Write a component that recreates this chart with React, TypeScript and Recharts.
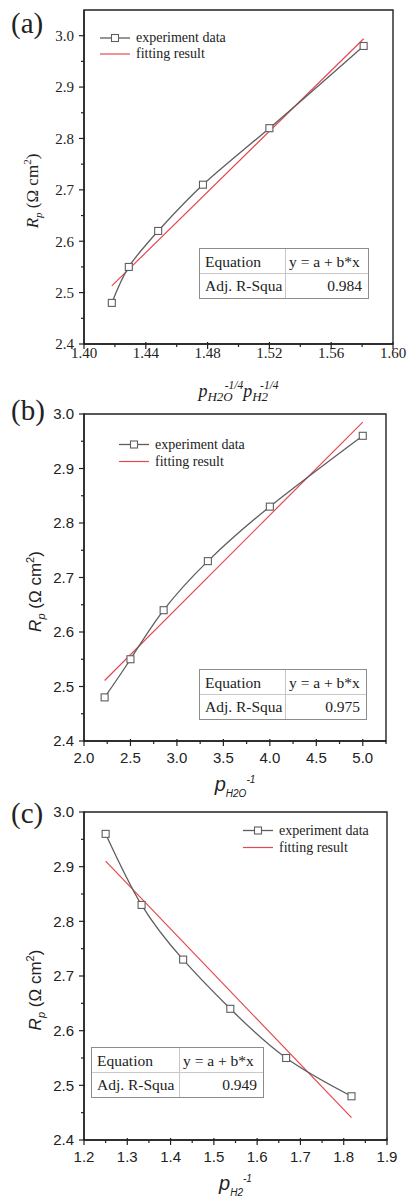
import React from 'react';
import { ComposedChart, Line, XAxis, YAxis, ReferenceArea } from 'recharts';

const SERIF = '"Liberation Serif", "Times New Roman", Times, serif';
const SANS = '"Liberation Sans", Arial, Helvetica, sans-serif';
const INK = '#222';
const EXP = '#5e5e5e';
const FIT = '#e5474f';

// (a) Rp against pH2O^-1/4 pH2^-1/4
const xA = [1.418, 1.429, 1.448, 1.477, 1.52, 1.581];
const rpA = [2.48, 2.55, 2.62, 2.71, 2.82, 2.98];
const fitXA = [1.418, 1.581];
const fitRpA = [2.513, 2.994];
const xTicksA = [1.4, 1.42, 1.44, 1.46, 1.48, 1.5, 1.52, 1.54, 1.56, 1.58, 1.6];
const r2A = '0.984';

// (b) Rp against pH2O^-1
const xB = [2.222, 2.5, 2.857, 3.333, 4.0, 5.0];
const rpB = [2.48, 2.55, 2.64, 2.73, 2.83, 2.96];
const fitXB = [2.222, 5.0];
const fitRpB = [2.511, 2.985];
const xTicksB = [2.0, 2.25, 2.5, 2.75, 3.0, 3.25, 3.5, 3.75, 4.0, 4.25, 4.5, 4.75, 5.0, 5.25];
const r2B = '0.975';

// (c) Rp against pH2^-1
const xC = [1.25, 1.333, 1.429, 1.538, 1.667, 1.818];
const rpC = [2.96, 2.83, 2.73, 2.64, 2.55, 2.48];
const fitXC = [1.25, 1.818];
const fitRpC = [2.91, 2.441];
const xTicksC = [1.2, 1.25, 1.3, 1.35, 1.4, 1.45, 1.5, 1.55, 1.6, 1.65, 1.7, 1.75, 1.8, 1.85, 1.9];
const r2C = '0.949';

const rpTicks = [2.4, 2.45, 2.5, 2.55, 2.6, 2.65, 2.7, 2.75, 2.8, 2.85, 2.9, 2.95, 3.0];

const pts = (xs: number[], ys: number[]) => xs.map((x, i) => ({ x, y: ys[i] }));

const square = (p: any) => (
  <rect key={`sq-${p.index}`} x={p.cx - 3.5} y={p.cy - 3.5} width={7} height={7}
    fill="#fff" stroke={EXP} strokeWidth={1.1} />
);

const XTick = (p: any) => {
  const major = p.index % 2 === 0;
  return (
    <g>
      <line x1={p.x} x2={p.x} y1={major ? p.y - 2 : p.y} y2={p.y + (major ? 5 : 3)} stroke={INK} strokeWidth={1.2} />
      {major && (
        <text x={p.x} y={p.y + p.gap} textAnchor="middle" fontFamily={p.font} fontSize={15} fill={INK}>
          {Number(p.payload.value).toFixed(p.digits)}
        </text>
      )}
    </g>
  );
};

const YTick = (p: any) => {
  const major = p.index % 2 === 0;
  return (
    <g>
      <line x1={major ? p.x + 1 : p.x} x2={p.x - (major ? 5 : 3)} y1={p.y} y2={p.y} stroke={INK} strokeWidth={1.2} />
      {major && (
        <text x={p.x - 10} y={p.y} dy="0.36em" textAnchor="end" fontFamily={p.font} fontSize={15} fill={INK}>
          {Number(p.payload.value).toFixed(1)}
        </text>
      )}
    </g>
  );
};

const RpLabel = (p: any) => {
  const vb = p.viewBox ?? { x: 0, y: 12, width: 84, height: 330 };
  const bx = vb.x + (p.font === SERIF ? 38 : 41);
  const cy = vb.y + vb.height / 2 + 14;
  const fs = 17;
  return (
    <text x={bx} y={cy} transform={`rotate(-90 ${bx} ${cy})`} textAnchor="middle"
      fontFamily={p.font} fontSize={fs} fill={INK}>
      <tspan fontStyle="italic">R</tspan>
      <tspan fontStyle="italic" fontSize={fs * 0.65} dy={4}>p</tspan>
      <tspan dy={-4}>{' (Ω cm'}</tspan>
      <tspan fontSize={fs * 0.65} dy={-7}>2</tspan>
      <tspan dy={7}>)</tspan>
    </text>
  );
};

const XLabel = (p: any) => {
  const vb = p.viewBox ?? { x: 84, y: 342, width: 302, height: 58 };
  const cx = vb.x + vb.width / 2;
  if (p.kind === 'a') {
    return (
      <text x={cx} y={vb.y + 53} textAnchor="middle" fontFamily={SERIF} fontStyle="italic" fill={INK}>
        <tspan fontSize={18}>p</tspan>
        <tspan fontSize={13} dy={4}>H2O</tspan>
        <tspan fontSize={11.5} dx={-8} dy={-12}>-1/4</tspan>
        <tspan fontSize={18} dy={8}>p</tspan>
        <tspan fontSize={13} dy={4}>H2</tspan>
        <tspan fontSize={11.5} dx={-8} dy={-12}>-1/4</tspan>
      </text>
    );
  }
  return (
    <text x={cx} y={vb.y + 50} textAnchor="middle" fontFamily={SANS} fontStyle="italic" fill={INK}>
      <tspan fontSize={20}>p</tspan>
      <tspan fontSize={10} dy={6}>{p.kind === 'b' ? 'H2O' : 'H2'}</tspan>
      <tspan fontSize={10} dy={-14}>-1</tspan>
    </text>
  );
};

const LegendBox = ({ left, top, row }: { left: number; top: number; row: number }) => (
  <div style={{ position: 'absolute', left, top, fontFamily: SERIF, fontSize: 14, color: INK, whiteSpace: 'nowrap' }}>
    <div style={{ display: 'flex', alignItems: 'center', height: row }}>
      <svg width={30} height={row} style={{ display: 'block' }}>
        <line x1={0} x2={30} y1={row / 2} y2={row / 2} stroke={EXP} strokeWidth={1.3} />
        <rect x={11.5} y={row / 2 - 3.5} width={7} height={7} fill="#fff" stroke={EXP} strokeWidth={1.1} />
      </svg>
      <span style={{ marginLeft: 6 }}>experiment data</span>
    </div>
    <div style={{ display: 'flex', alignItems: 'center', height: row }}>
      <svg width={30} height={row} style={{ display: 'block' }}>
        <line x1={0} x2={30} y1={row / 2} y2={row / 2} stroke={FIT} strokeWidth={1.2} />
      </svg>
      <span style={{ marginLeft: 6 }}>fitting result</span>
    </div>
  </div>
);

const EqTable = ({ left, top, width, col, r2 }: { left: number; top: number; width: number; col: number; r2: string }) => {
  const cell = { lineHeight: '25px', whiteSpace: 'nowrap' as const, overflow: 'hidden' };
  return (
    <div style={{
      position: 'absolute', left, top, width, boxSizing: 'border-box', border: '1.5px solid #8c8c8c',
      background: '#fff', fontFamily: SERIF, fontSize: 15.5, color: INK,
      display: 'grid', gridTemplateColumns: `${col}px 1fr`, gridTemplateRows: '25px 24px',
    }}>
      <div style={{ ...cell, borderRight: '1px solid #c8c8c8', borderBottom: '1px solid #c8c8c8', paddingLeft: 5 }}>Equation</div>
      <div style={{ ...cell, borderBottom: '1px solid #c8c8c8', paddingLeft: 3 }}>y = a + b*x</div>
      <div style={{ ...cell, lineHeight: '24px', borderRight: '1px solid #c8c8c8', paddingLeft: 5 }}>Adj. R-Squa</div>
      <div style={{ ...cell, lineHeight: '24px', textAlign: 'right', paddingRight: 6 }}>{r2}</div>
    </div>
  );
};

type PanelProps = {
  letter: string; letterTop: number;
  xs: number[]; ys: number[]; fitX: number[]; fitY: number[];
  xDomain: [number, number]; yDomain: [number, number];
  xTicks: number[]; xDigits: number; font: string; xGap: number;
  margin: { top: number; right: number }; xHeight: number; kind: string;
  legend: { left: number; top: number; row: number };
  table: { left: number; top: number; width: number; col: number }; r2: string;
};

// the svg is 20px taller than its 400px slot so that the x label can hang below the slot
const Panel = (pp: PanelProps) => {
  const exp = pts(pp.xs, pp.ys);
  const fit = pts(pp.fitX, pp.fitY);
  return (
    <div style={{ position: 'relative', width: 407, height: 400, overflow: 'visible' }}>
      <div style={{ position: 'absolute', left: 0, top: 0 }}>
        <ComposedChart width={407} height={420} margin={{ top: pp.margin.top, right: pp.margin.right, bottom: 20, left: 0 }}>
          <XAxis type="number" dataKey="x" domain={pp.xDomain} ticks={pp.xTicks} interval={0} allowDataOverflow
            height={pp.xHeight} tickSize={0} tickMargin={0} tickLine={false} axisLine={{ stroke: INK, strokeWidth: 1.4 }}
            tick={(p: any) => <XTick {...p} font={pp.font} digits={pp.xDigits} gap={pp.xGap} />}
            label={<XLabel kind={pp.kind} />} />
          <YAxis type="number" dataKey="y" domain={pp.yDomain} ticks={rpTicks} interval={0} allowDataOverflow
            width={84} tickSize={0} tickMargin={0} tickLine={false} axisLine={{ stroke: INK, strokeWidth: 1.4 }}
            tick={(p: any) => <YTick {...p} font={pp.font} />}
            label={<RpLabel font={pp.font} />} />
          <ReferenceArea x1={pp.xDomain[0]} x2={pp.xDomain[1]} y1={pp.yDomain[0]} y2={pp.yDomain[1]}
            fill="none" stroke={INK} strokeWidth={1.4} ifOverflow="visible" />
          <Line data={fit} dataKey="y" type="linear" stroke={FIT} strokeWidth={1.2} dot={false} isAnimationActive={false} />
          <Line data={exp} dataKey="y" type="natural" stroke={EXP} strokeWidth={1.3} dot={square} isAnimationActive={false} />
        </ComposedChart>
      </div>
      <div style={{ position: 'absolute', left: 11, top: pp.letterTop, fontFamily: SERIF, fontSize: 29, lineHeight: '29px', color: INK }}>
        {pp.letter}
      </div>
      <LegendBox {...pp.legend} />
      <EqTable {...pp.table} r2={pp.r2} />
    </div>
  );
};

export default function App() {
  return (
    <div style={{ width: 407, height: 1200, background: '#fff', overflow: 'hidden' }}>
      <style>{'body{margin:0;background:#fff}'}</style>
      <Panel letter="(a)" letterTop={9} xs={xA} ys={rpA} fitX={fitXA} fitY={fitRpA}
        xDomain={[1.4, 1.6]} yDomain={[2.4, 3.05]} xTicks={xTicksA} xDigits={2} font={SERIF} xGap={14}
        margin={{ top: 10, right: 14 }} xHeight={56} kind="a"
        legend={{ left: 100, top: 30, row: 16 }}
        table={{ left: 199, top: 248, width: 170, col: 86 }} r2={r2A} />
      <Panel letter="(b)" letterTop={-4} xs={xB} ys={rpB} fitX={fitXB} fitY={fitRpB}
        xDomain={[2.0, 5.25]} yDomain={[2.4, 3.0]} xTicks={xTicksB} xDigits={1} font={SANS} xGap={22}
        margin={{ top: 14, right: 21 }} xHeight={59} kind="b"
        legend={{ left: 119, top: 36, row: 17 }}
        table={{ left: 199, top: 269, width: 168, col: 86 }} r2={r2B} />
      <Panel letter="(c)" letterTop={-1} xs={xC} ys={rpC} fitX={fitXC} fitY={fitRpC}
        xDomain={[1.2, 1.9]} yDomain={[2.4, 3.0]} xTicks={xTicksC} xDigits={1} font={SANS} xGap={22}
        margin={{ top: 12, right: 20 }} xHeight={60} kind="c"
        legend={{ left: 243, top: 22, row: 17 }}
        table={{ left: 91, top: 247, width: 173, col: 88 }} r2={r2C} />
    </div>
  );
}
